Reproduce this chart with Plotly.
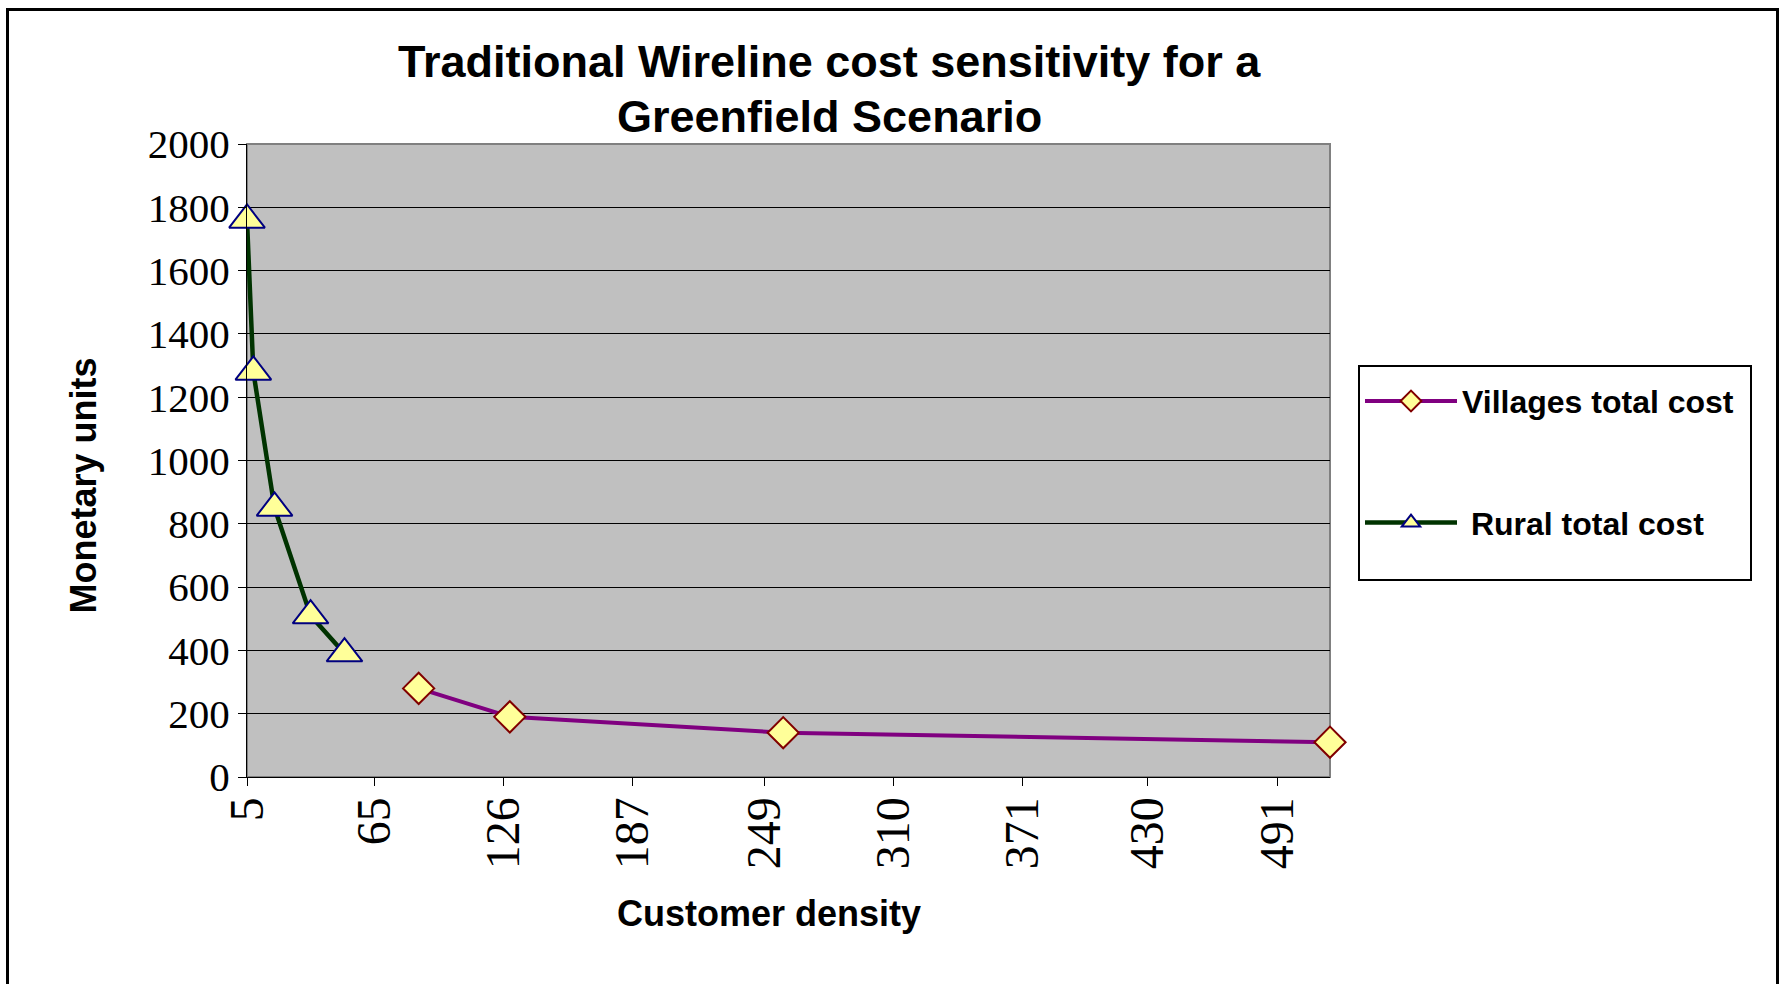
import plotly.graph_objects as go

# Customer density (x) and total cost in monetary units (y) for each scenario
village_density = [86, 129, 258, 516]
village_cost = [280, 190, 140, 110]
rural_density = [5, 8, 18, 35, 51]
rural_cost = [1760, 1280, 850, 510, 390]

x_tick_labels = ["5", "65", "126", "187", "249", "310", "371", "430", "491"]
y_tick_values = [0, 200, 400, 600, 800, 1000, 1200, 1400, 1600, 1800, 2000]

# Canvas and plot-area geometry (pixels)
W, H = 1783, 984
L, R, T, B = 247, 1330, 144, 777

SANS = "Liberation Sans"
SERIF = "Liberation Serif"


def px(x):
    """Horizontal pixel position -> paper coordinate."""
    return (x - L) / (R - L)


def py(y):
    """Vertical pixel position (from top) -> paper coordinate."""
    return (B - y) / (B - T)


fig = go.Figure()

fig.add_trace(go.Scatter(
    x=village_density, y=village_cost,
    name="Villages total cost", legendgroup="villages",
    mode="lines+markers",
    line=dict(color="#800080", width=4),
    marker=dict(symbol="diamond", size=24, color="#FFFF99",
                line=dict(color="#800000", width=2)),
    cliponaxis=False,
))

fig.add_trace(go.Scatter(
    x=rural_density, y=rural_cost,
    name=" Rural total cost", legendgroup="rural",
    mode="lines+markers",
    line=dict(color="#003300", width=4.5),
    marker=dict(symbol="triangle-up", size=31, color="#FFFF99",
                line=dict(color="#000080", width=2)),
    cliponaxis=False,
))

annotations = [
    dict(text="Traditional Wireline cost sensitivity for a",
         x=px(829), y=py(61), xref="paper", yref="paper",
         xanchor="center", yanchor="middle", showarrow=False,
         font=dict(family=SANS, size=45, color="black", weight="bold")),
    dict(text="Greenfield Scenario",
         x=px(829), y=py(116), xref="paper", yref="paper",
         xanchor="center", yanchor="middle", showarrow=False,
         font=dict(family=SANS, size=45, color="black", weight="bold")),
    dict(text="Customer density",
         x=px(769), y=py(913), xref="paper", yref="paper",
         xanchor="center", yanchor="middle", showarrow=False,
         font=dict(family=SANS, size=36, color="black", weight="bold")),
    dict(text="Monetary units", textangle=-90,
         x=px(83), y=py(485.5), xref="paper", yref="paper",
         xanchor="center", yanchor="middle", showarrow=False,
         font=dict(family=SANS, size=36, color="black", weight="bold")),
]

shapes = [
    # outer chart frame
    dict(type="rect", xref="paper", yref="paper",
         x0=px(7.5), x1=px(1777.5), y0=py(1000), y1=py(9.5),
         line=dict(color="black", width=3), layer="below"),
    # plot-area frame
    dict(type="rect", xref="paper", yref="paper",
         x0=0, x1=1, y0=0, y1=1,
         line=dict(color="#808080", width=2), layer="between"),
    # legend frame
    dict(type="rect", xref="paper", yref="paper",
         x0=px(1359), x1=px(1751), y0=py(580), y1=py(366),
         line=dict(color="black", width=2), fillcolor="white", layer="below"),
]

fig.update_layout(
    width=W, height=H,
    margin=dict(l=L, r=W - R, t=T, b=H - B, autoexpand=False),
    paper_bgcolor="white",
    plot_bgcolor="#C0C0C0",
    showlegend=True,
    legend=dict(
        x=px(1360), y=py(373.7), xanchor="left", yanchor="top",
        bgcolor="rgba(0,0,0,0)", borderwidth=0,
        font=dict(family=SANS, size=32, color="black", weight="bold"),
        itemwidth=92, tracegroupgap=77, traceorder="grouped",
    ),
    xaxis=dict(
        range=[rural_density[0], village_density[-1]],
        tickvals=[int(t) for t in x_tick_labels], ticktext=x_tick_labels,
        tickangle=-90, ticks="outside", ticklen=8, tickwidth=1, tickcolor="black",
        tickfont=dict(family=SERIF, size=48, color="black"),
        ticklabelstandoff=-8,
        showgrid=False, zeroline=False,
        showline=True, linecolor="black", linewidth=1,
    ),
    yaxis=dict(
        range=[0, 2000], tickvals=y_tick_values,
        ticks="outside", ticklen=8, tickwidth=1, tickcolor="black",
        tickfont=dict(family=SERIF, size=41, color="black"),
        showgrid=True, gridcolor="black", gridwidth=1, zeroline=False,
        showline=True, linecolor="black", linewidth=1,
    ),
    annotations=annotations,
    shapes=shapes,
)

fig.write_html("out.html")
